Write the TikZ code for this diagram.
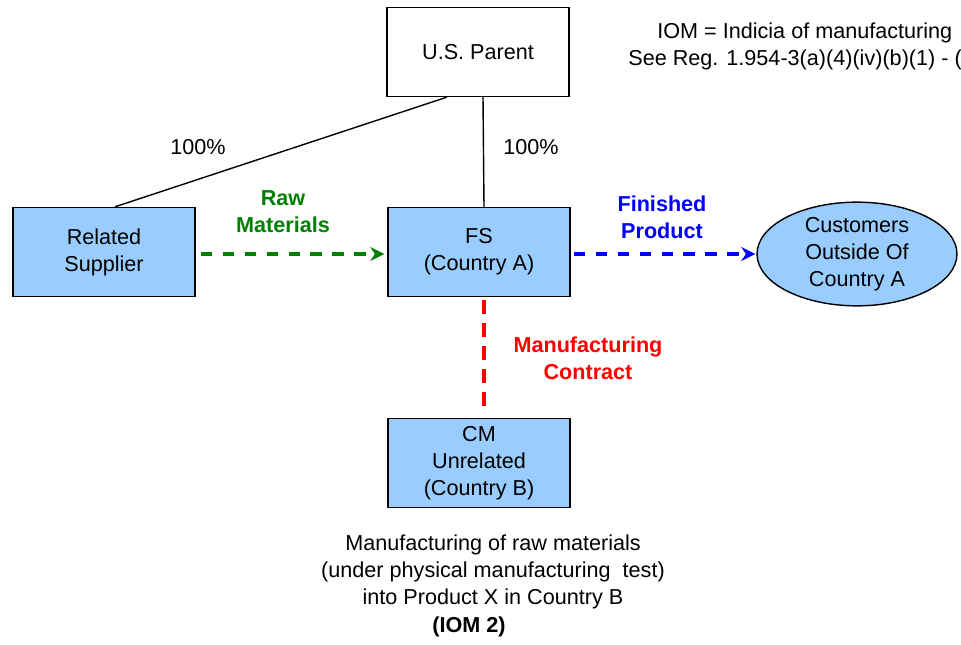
\documentclass[tikz,border=0pt]{standalone}
\usepackage{fontspec}
\setmainfont{Liberation Sans}
\usetikzlibrary{positioning,arrows.meta,shapes.geometric,calc}
\definecolor{BoxBlue}{RGB}{153,204,255}
\definecolor{RawGreen}{RGB}{0,128,0}
\definecolor{ProdBlue}{RGB}{0,0,255}
\definecolor{ContrRed}{RGB}{255,0,0}
\newcommand{\diafont}{\fontsize{12.3}{15.3}\selectfont}
\tikzset{
  entity/.style={draw=black, thick, fill=BoxBlue, minimum width=3.64cm, minimum height=1.78cm,
    align=center, inner sep=2pt},
  parentbox/.style={entity, fill=white},
  custnode/.style={draw=black, thick, fill=BoxBlue, ellipse, minimum width=4cm, minimum height=1.8cm,
    align=center, inner sep=0pt},
  flowarrow/.style={-{Stealth[length=8pt,width=8pt]}, line width=2pt, dash pattern=on 6.5pt off 6pt},
  flowlabel/.style={font=\diafont\bfseries, align=center},
  own/.style={black, line width=0.8pt},
  note/.style={align=center, inner sep=0pt},
}
\begin{document}
\begin{tikzpicture}[x=0.02cm, y=-0.02cm, font=\diafont]
    \useasboundingbox (0,0) rectangle (961,645);
    \clip (0,0) rectangle (961,645);
    % the entities
    \node[parentbox] (parent) at (478,52) {U.S. Parent};
    \node[entity] (supplier) at (104,252) {Related\\Supplier};
    \node[entity] (fs) at (479,252) {FS\\(Country A)};
    \node[entity] (cm) at (479,463) {CM\\Unrelated\\(Country B)};
    \node[custnode] (cust) at (857,254) {Customers\\Outside Of\\Country A};
    % ownership
    \draw[own] ($(parent.south west)!0.33!(parent.south east)$) -- ($(supplier.north west)!0.56!(supplier.north east)$);
    \draw[own] ([xshift=0.1cm]parent.south) -- ([xshift=0.1cm]fs.north);
    \node (ownA) at (198,147) {100\%};
    \node (ownB) at (531,147) {100\%};
    % flows
    \draw[flowarrow, RawGreen, shorten <=0.1cm, shorten >=0.06cm] ([yshift=-0.04cm]supplier.east) -- ([yshift=-0.04cm]fs.west);
    \node[flowlabel, text=RawGreen] (rawlab) at (283,212) {Raw\\Materials};
    \draw[flowarrow, ProdBlue, shorten <=0.06cm, shorten >=0.02cm] (fs.east |- cust.west) -- (cust.west);
    \node[flowlabel, text=ProdBlue] (prodlab) at (662,217) {Finished\\Product};
    \draw[line width=2pt, ContrRed, dash pattern=on 8pt off 5pt, shorten <=0.06cm, shorten >=0.16cm] ([xshift=0.1cm]fs.south) -- ([xshift=0.1cm]cm.north);
    \node[flowlabel, text=ContrRed] (contrlab) at (588,358) {Manufacturing\\Contract};
    % notes
    \node[note] (testnote) at (493,572) {Manufacturing of raw materials\\(under physical manufacturing\ \ test)\\into Product X in Country B};
    \node[note, font=\diafont\bfseries] (iomtwo) at (469,627) {(IOM 2)};
    \node[note, anchor=west] (iomdef) at (657,33) {IOM = Indicia of manufacturing};
    \node[note, anchor=west] (regref) at (628,60) {See Reg. 1.954-3(a)(4)(iv)(b)(1) - (3)};
  \end{tikzpicture}
\end{document}
